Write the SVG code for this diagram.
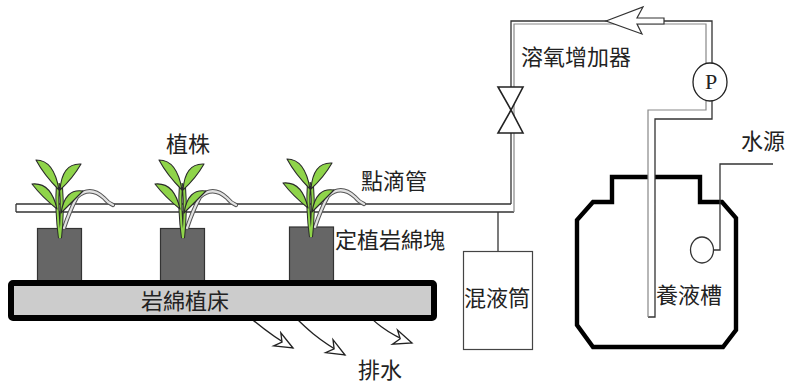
<svg xmlns="http://www.w3.org/2000/svg" xmlns:xlink="http://www.w3.org/1999/xlink" width="786" height="387" viewBox="0 0 786 387">
  <style>
    .lbl { font-family: "Noto Sans CJK TC", "Noto Sans CJK SC", sans-serif; font-size: 22px; fill: #222; }
    .pipe-o { fill: none; stroke: #333; stroke-width: 1.3; }
    .pipe-i { fill: none; stroke: #888; stroke-width: 1.2; }
    .pot { fill: #666; stroke: #333; stroke-width: 1.2; }
    .leaf { fill: #8fd44a; stroke: #2a2a2a; stroke-width: 1.1; stroke-linejoin: round; }
    .thin { fill: none; stroke: #333; stroke-width: 1.3; }
    .drain { fill: none; stroke: #222; stroke-width: 1.3; }
  </style>
  <defs>
    <marker id="hollowHead" markerUnits="userSpaceOnUse" markerWidth="24" markerHeight="20" viewBox="-20 -10 24 20" refX="0" refY="0" orient="auto">
      <path d="M0,0 L-18,-7.5 L-12.5,0 L-18,7.5 Z" fill="#fff" stroke="#222" stroke-width="1.3" stroke-linejoin="miter"/>
    </marker>
    <!-- one plant with its drip emitter, drawn at the first pot -->
    <g id="plant">
      <path d="M64,228 Q70,210 77,197 Q90,185 104,198 Q108,203 113,205" fill="none" stroke="#555" stroke-width="4.2" stroke-linecap="round"/>
      <path d="M64,228 Q70,210 77,197 Q90,185 104,198 Q108,203 113,205" fill="none" stroke="#e2e2e2" stroke-width="2.2" stroke-linecap="round"/>
      <path d="M58,183 Q56,210 60,238 M61,187 Q63,212 60,238" fill="none" stroke="#2a2a2a" stroke-width="4"/>
      <path d="M58,183 Q56,210 60,238 M61,187 Q63,212 60,238" fill="none" stroke="#8fd44a" stroke-width="2"/>
      <path class="leaf" d="M36,160 Q54,160 59,190 Q44,175 36,160 Z"/>
      <path class="leaf" d="M81,164 Q62,163 60,190 Q73,178 81,164 Z"/>
      <path class="leaf" d="M32,184 Q51,182 57,209 Q42,197 32,184 Z"/>
      <path class="leaf" d="M83,191 Q65,188 61,213 Q73,201 83,191 Z"/>
    </g>
  </defs>

  <rect width="786" height="387" fill="#fff"/>

  <!-- nutrient tank -->
  <g id="tank">
    <polygon points="612,177 700,177 700,202 722,202 736,218 736,330 723,347 593,347 577,325 577,220 593,202 612,202" fill="#fff" stroke="#000" stroke-width="4.4" stroke-linejoin="miter"/>
  </g>

  <!-- connectors: pipe loop, drip tube, feed lines -->
  <g id="connectors">
    <rect x="648" y="110" width="7" height="207" fill="#fff"/>
    <rect x="16" y="204" width="497" height="8" fill="#fff"/>
    <path class="pipe-o" d="M16,212 H514 M511,204 V21 H712 V64 M712,100 V119 H655 V317 H648 M16,204 H511 M16,204 V212"/>
    <path class="pipe-i" d="M514,212 V24 H706 V64 M706,100 V110 H648 V317"/>
    <line class="thin" x1="498" y1="212" x2="498" y2="252"/>
    <polyline class="thin" points="773,164 720,164 720,250 713,250"/>
    <!-- flow arrow on the top pipe -->
    <polygon points="606,21 643,7 637,18 664,18 664,24 637,24 642,34" fill="#fff" stroke="#333" stroke-width="1.2"/>
    <!-- drainage arrows -->
    <path class="drain" d="M230,303 C248,313 260,330 293,348" marker-end="url(#hollowHead)"/>
    <path class="drain" d="M282,305 C296,316 306,333 345,355" marker-end="url(#hollowHead)"/>
    <path class="drain" d="M348,297 C362,306 375,330 412,343" marker-end="url(#hollowHead)"/>
  </g>

  <!-- rock-wool blocks -->
  <g id="blocks">
    <rect class="pot" x="37.5" y="228.5" width="44" height="53"/>
    <rect class="pot" x="160.5" y="228.5" width="44" height="53"/>
    <rect class="pot" x="289.5" y="227" width="44" height="54"/>
  </g>

  <!-- plants -->
  <g id="plants">
    <use xlink:href="#plant" href="#plant"/>
    <use xlink:href="#plant" href="#plant" x="123" y="0"/>
    <use xlink:href="#plant" href="#plant" x="251" y="-1"/>
  </g>

  <!-- rock-wool bed -->
  <g id="bed">
    <rect x="11" y="283" width="423" height="35" rx="2" fill="#cccccc" stroke="#000" stroke-width="6"/>
    <text class="lbl" x="141" y="309">岩綿植床</text>
  </g>

  <!-- valve -->
  <g id="valve">
    <polygon points="498,87 523,87 511,110" fill="#fff" stroke="#222" stroke-width="1.6" stroke-linejoin="miter"/>
    <polygon points="511,110 498,133 523,133" fill="#fff" stroke="#222" stroke-width="1.6" stroke-linejoin="miter"/>
  </g>

  <!-- pump -->
  <g id="pump">
    <ellipse cx="710" cy="82" rx="17" ry="19" fill="#fff" stroke="#222" stroke-width="1.3"/>
    <text x="711" y="89" text-anchor="middle" font-family="Liberation Serif, serif" font-size="22" fill="#222">P</text>
  </g>

  <!-- mixing tube -->
  <g id="mixer">
    <rect x="463.5" y="251.5" width="69" height="98" fill="#fff" stroke="#444" stroke-width="1.2"/>
    <text class="lbl" x="464" y="306">混液筒</text>
  </g>

  <!-- float valve -->
  <g id="float">
    <ellipse cx="702" cy="250" rx="11.5" ry="13" fill="#fff" stroke="#333" stroke-width="1.3"/>
  </g>

  <!-- labels -->
  <g id="labels">
    <text class="lbl" x="166" y="152">植株</text>
    <text class="lbl" x="361" y="189">點滴管</text>
    <text class="lbl" x="335" y="248">定植岩綿塊</text>
    <text class="lbl" x="358" y="378" font-size="21">排水</text>
    <text class="lbl" x="521" y="65">溶氧增加器</text>
    <text class="lbl" x="741" y="149" font-size="21">水源</text>
    <text class="lbl" x="656" y="303">養液槽</text>
  </g>
</svg>
